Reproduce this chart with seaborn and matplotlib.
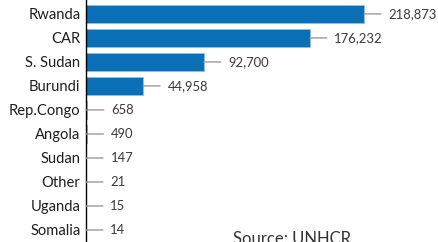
import matplotlib
matplotlib.use("Agg")
import matplotlib.pyplot as plt
import seaborn as sns
import pandas as pd

countries = ["Rwanda", "CAR", "S. Sudan", "Burundi", "Rep.Congo", "Angola",
             "Sudan", "Other", "Uganda", "Somalia"]
refugees = [218873, 176232, 92700, 44958, 658, 490, 147, 21, 15, 14]
value_labels = ["218,873", "176,232", "92,700", "44,958", "658", "490",
                "147", "21", "15", "14"]
source_text = "Source: UNHCR"

sns.set_style("white")
plt.rcParams["font.family"] = ["Lato", "DejaVu Sans"]

df = pd.DataFrame({"country": countries, "refugees": refugees})

fig = plt.figure(figsize=(4.38, 2.42), dpi=100)
ax = fig.add_axes([86 / 438, 0.0, 1 - 86 / 438, 1.0])

sns.barplot(data=df, y="country", x="refugees", orient="h", ax=ax,
            color="#0b6fb6", saturation=1, width=0.75,
            edgecolor="#8fc0e6", linewidth=0.6)

ax.set_xlim(0, 277000)
ax.set_ylim(9.5, -0.58)
ax.set_xlabel("")
ax.set_ylabel("")
ax.set_xticks([])
for s in ["top", "right", "bottom"]:
    ax.spines[s].set_visible(False)
ax.spines["left"].set_color("black")
ax.spines["left"].set_linewidth(1.0)
ax.tick_params(axis="y", length=0, pad=4, labelsize=10.6, labelcolor="#1e1e1e")

for i, (v, lab) in enumerate(zip(refugees, value_labels)):
    ax.annotate(lab, xy=(v, i), xytext=(17.5, 0), textcoords="offset points",
                ha="left", va="center", fontsize=9.4, color="#3a3a3a",
                arrowprops=dict(arrowstyle="-", color="#999999", lw=1.0,
                                shrinkA=3, shrinkB=0))

fig.text(233 / 438, 1 - 231 / 242, source_text, ha="left", va="top",
         fontsize=12, color="#333333")

fig.savefig("out.png", dpi=100)
